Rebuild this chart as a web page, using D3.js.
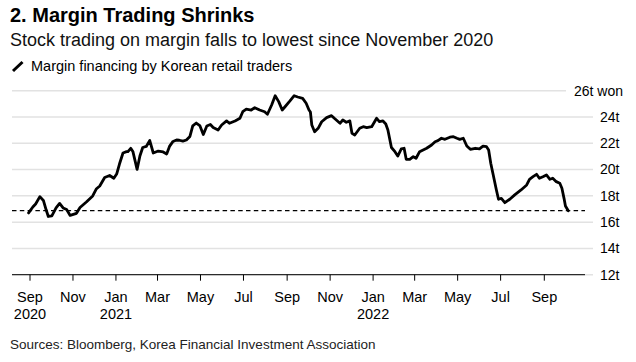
<!DOCTYPE html>
<html>
<head>
<meta charset="utf-8">
<script src="https://cdn.jsdelivr.net/npm/d3@7"></script>
<style>
  html, body { margin: 0; padding: 0; background: #fff; }
  svg { display: block; font-family: "Liberation Sans", Arial, Helvetica, sans-serif; }
</style>
</head>
<body>
<svg id="chart" width="636" height="362"></svg>
<script>
// ---------- DATA ----------
const title = "2. Margin Trading Shrinks";
const subtitle = "Stock trading on margin falls to lowest since November 2020";
const seriesName = "Margin financing by Korean retail traders";
const source = "Sources: Bloomberg, Korea Financial Investment Association";

const dates = [
  "2020-08-30","2020-09-05","2020-09-09","2020-09-15","2020-09-20","2020-09-24","2020-09-27","2020-10-02","2020-10-08","2020-10-13",
  "2020-10-18","2020-10-23","2020-10-28","2020-11-06","2020-11-11","2020-11-20","2020-11-29","2020-12-04","2020-12-09","2020-12-16",
  "2020-12-23","2020-12-29","2021-01-02","2021-01-06","2021-01-11","2021-01-16","2021-01-18","2021-01-22","2021-01-25","2021-01-31",
  "2021-02-04","2021-02-08","2021-02-13","2021-02-18","2021-02-23","2021-03-02","2021-03-09","2021-03-14","2021-03-18","2021-03-23",
  "2021-03-28","2021-04-01","2021-04-06","2021-04-11","2021-04-16","2021-04-20","2021-04-25","2021-04-30","2021-05-05","2021-05-10",
  "2021-05-15","2021-05-19","2021-05-26","2021-05-31","2021-06-07","2021-06-11","2021-06-19","2021-06-26","2021-06-30","2021-07-05",
  "2021-07-12","2021-07-17","2021-07-24","2021-07-31","2021-08-04","2021-08-10","2021-08-15","2021-08-20","2021-08-25","2021-08-29",
  "2021-09-05","2021-09-11","2021-09-16","2021-09-23","2021-09-28","2021-10-02","2021-10-04","2021-10-06","2021-10-10","2021-10-15",
  "2021-10-20","2021-10-27","2021-11-03","2021-11-07","2021-11-15","2021-11-19","2021-11-24","2021-11-29","2021-12-02","2021-12-06",
  "2021-12-13","2021-12-18","2021-12-23","2021-12-30","2022-01-06","2022-01-10","2022-01-15","2022-01-19","2022-01-22","2022-01-27",
  "2022-02-01","2022-02-05","2022-02-10","2022-02-14","2022-02-17","2022-02-22","2022-02-27","2022-03-03","2022-03-08","2022-03-13",
  "2022-03-18","2022-03-25","2022-03-30","2022-04-03","2022-04-08","2022-04-13","2022-04-20","2022-04-25","2022-04-30","2022-05-04",
  "2022-05-09","2022-05-14","2022-05-19","2022-05-26","2022-06-01","2022-06-06","2022-06-11","2022-06-14","2022-06-17","2022-06-20",
  "2022-06-25","2022-06-28","2022-07-02","2022-07-07","2022-07-14","2022-07-21","2022-07-30","2022-08-07","2022-08-11","2022-08-16",
  "2022-08-21","2022-08-25","2022-08-30","2022-09-04","2022-09-09","2022-09-13","2022-09-18","2022-09-23","2022-09-26","2022-09-29",
  "2022-10-01","2022-10-05"
];
const values = [
  16.70,17.15,17.38,17.94,17.65,16.92,16.43,16.47,17.08,17.42,
  17.08,16.96,16.51,16.67,17.11,17.53,17.99,18.52,18.75,19.40,
  19.55,19.34,19.66,20.42,21.26,21.36,21.36,21.62,21.38,20.01,
  21.03,21.68,21.76,22.21,21.26,21.41,21.34,21.19,21.76,22.14,
  22.25,22.23,22.17,22.25,22.52,23.32,23.54,23.35,22.67,23.32,
  23.43,23.20,23.01,23.39,23.70,23.52,23.70,23.90,24.40,24.59,
  24.53,24.71,24.53,24.40,24.21,24.91,25.62,25.17,24.53,24.78,
  25.22,25.62,25.52,25.42,25.04,24.53,24.38,23.39,22.88,23.14,
  23.64,23.95,24.10,23.90,23.52,23.77,23.60,23.70,22.76,22.63,
  23.14,23.26,23.19,23.26,23.90,23.64,23.70,23.47,23.01,21.68,
  21.36,21.03,21.57,21.62,20.78,20.77,20.98,20.86,21.36,21.49,
  21.62,21.87,22.12,22.20,22.38,22.30,22.46,22.50,22.38,22.30,
  22.38,21.79,21.54,21.62,21.58,21.79,21.74,21.49,20.48,19.72,
  18.45,17.74,17.81,17.48,17.74,18.07,18.45,18.83,19.26,19.46,
  19.64,19.34,19.46,19.59,19.26,19.34,19.08,18.96,18.58,17.81,
  17.23,16.87
];
const referenceLevel = 16.87; // latest level (dashed line)

const yTicks = [12, 14, 16, 18, 20, 22, 24, 26];
const yTickLabels = ["12t", "14t", "16t", "18t", "20t", "22t", "24t", "26t won"];

const xTickDates = ["2020-09-01","2020-11-01","2021-01-01","2021-03-01","2021-05-01","2021-07-01","2021-09-01",
                    "2021-11-01","2022-01-01","2022-03-01","2022-05-01","2022-07-01","2022-09-01"];
const xTickMonths = ["Sep","Nov","Jan","Mar","May","Jul","Sep","Nov","Jan","Mar","May","Jul","Sep"];
const xTickYears  = ["2020","","2021","","","","","","2022","","","",""];

// ---------- LAYOUT ----------
const parse = d3.utcParse("%Y-%m-%d");
const data = dates.map((d, i) => ({ date: parse(d), value: values[i] }));

const plotLeft = 12, plotRight = 593, axisRight = 585;
const x = d3.scaleUtc()
  .domain([parse("2020-09-01"), parse("2022-09-01")])
  .range([30, 544.3]);
const y = d3.scaleLinear().domain([12, 26]).range([274.7, 90.7]);

const svg = d3.select("#chart");

// Title block
svg.append("text").attr("x", 10).attr("y", 22)
  .attr("font-size", 20).attr("font-weight", "bold").attr("fill", "#000")
  .text(title);
svg.append("text").attr("x", 10).attr("y", 46)
  .attr("font-size", 18).attr("fill", "#111")
  .text(subtitle);

// Legend
svg.append("line").attr("x1", 13).attr("y1", 71).attr("x2", 22.5).attr("y2", 62)
  .attr("stroke", "#000").attr("stroke-width", 3).attr("stroke-linecap", "butt");
svg.append("text").attr("x", 31).attr("y", 71)
  .attr("font-size", 14.5).attr("fill", "#000")
  .text(seriesName);

// Gridlines
svg.append("g").selectAll("line").data(yTicks).join("line")
  .attr("x1", plotLeft)
  .attr("x2", (d, i) => i === yTicks.length - 1 ? 566 : plotRight)
  .attr("y1", d => y(d)).attr("y2", d => y(d))
  .attr("stroke", "#e2e2e2").attr("stroke-width", 1.5);

// Y labels
svg.append("g").selectAll("text").data(yTicks).join("text")
  .attr("x", (d, i) => i === yTicks.length - 1 ? 623 : 600)
  .attr("text-anchor", (d, i) => i === yTicks.length - 1 ? "end" : "start")
  .attr("y", d => y(d))
  .attr("dy", "0.35em")
  .attr("font-size", 14).attr("fill", "#000")
  .text((d, i) => yTickLabels[i]);

// X axis line and ticks
svg.append("line").attr("x1", plotLeft).attr("x2", axisRight)
  .attr("y1", y(12)).attr("y2", y(12))
  .attr("stroke", "#000").attr("stroke-width", 1);
const xt = svg.append("g");
xTickDates.forEach((d, i) => {
  const px = x(parse(d));
  xt.append("line").attr("x1", px).attr("x2", px)
    .attr("y1", y(12)).attr("y2", y(12) + 6)
    .attr("stroke", "#000").attr("stroke-width", 1);
  xt.append("text").attr("x", px).attr("y", 302)
    .attr("text-anchor", "middle").attr("font-size", 14.5).attr("fill", "#000")
    .text(xTickMonths[i]);
  if (xTickYears[i]) {
    xt.append("text").attr("x", px).attr("y", 319)
      .attr("text-anchor", "middle").attr("font-size", 14.5).attr("fill", "#000")
      .text(xTickYears[i]);
  }
});

// Reference dashed line
svg.append("line").attr("x1", plotLeft).attr("x2", axisRight)
  .attr("y1", y(referenceLevel)).attr("y2", y(referenceLevel))
  .attr("stroke", "#000").attr("stroke-width", 1.3)
  .attr("stroke-dasharray", "4.5,3.3");

// Series line
const line = d3.line().x(d => x(d.date)).y(d => y(d.value)).curve(d3.curveLinear);
svg.append("path").datum(data)
  .attr("d", line)
  .attr("fill", "none").attr("stroke", "#000")
  .attr("stroke-width", 2.8).attr("stroke-linejoin", "round").attr("stroke-linecap", "round");

// Source
svg.append("text").attr("x", 10).attr("y", 349)
  .attr("font-size", 13.5).attr("fill", "#222")
  .text(source);
</script>
</body>
</html>
